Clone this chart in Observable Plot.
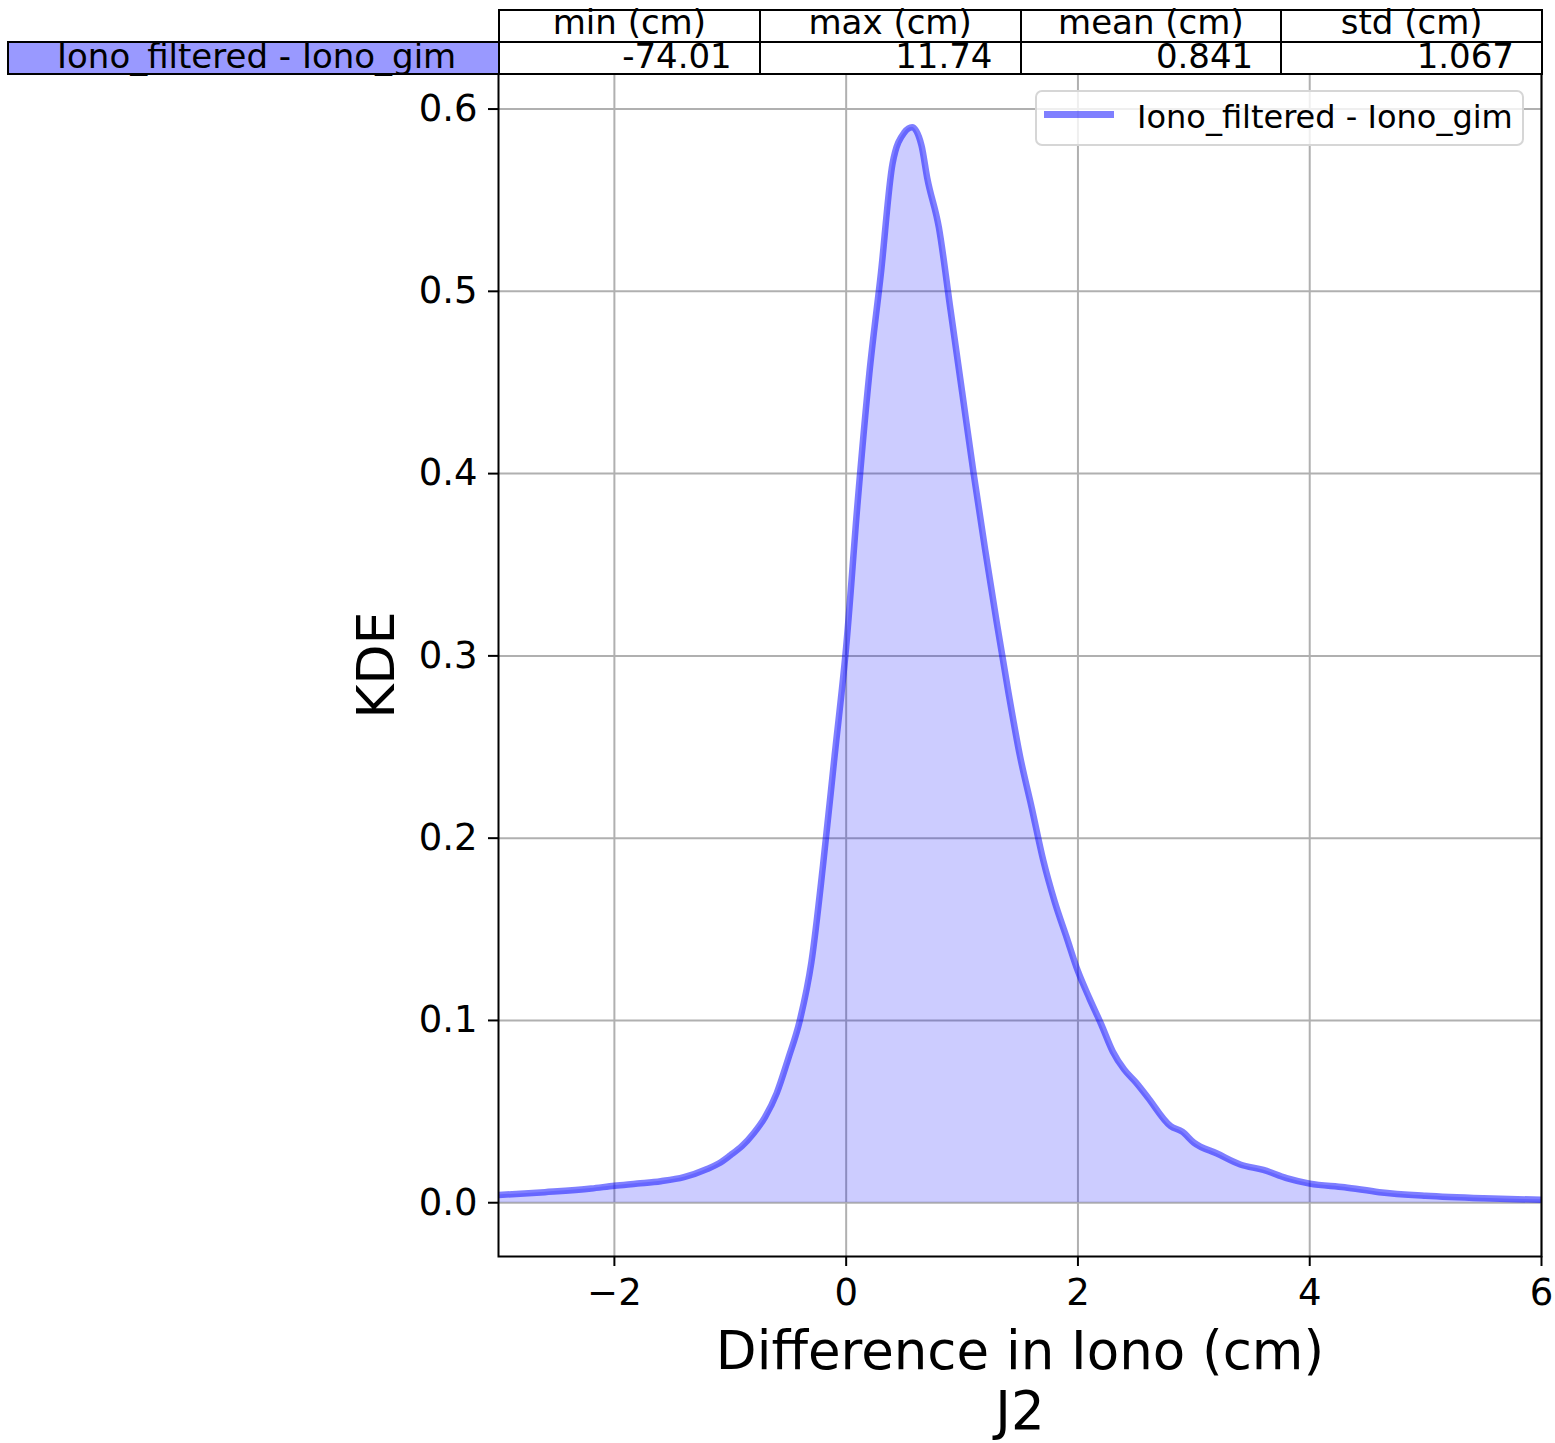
<!DOCTYPE html>
<html>
<head>
<meta charset="utf-8">
<script src="https://cdn.jsdelivr.net/npm/d3@7"></script>
<script src="https://cdn.jsdelivr.net/npm/@observablehq/plot@0.6"></script>
<style>
  html, body { margin: 0; padding: 0; background: #fff; }
  #wrap { position: relative; width: 1555px; height: 1443px; font-family: "DejaVu Sans", sans-serif; }
  #chart { position: absolute; left: 0; top: 0; }
  .cell { position: absolute; box-sizing: border-box; border: 2px solid #000; font-size: 34px; color: #000; white-space: nowrap; overflow: visible; }
  .cell span { display: block; position: absolute; height: 30px; line-height: 30px; }
  #legend { position: absolute; left: 1035px; top: 90px; width: 489px; height: 56px; box-sizing: border-box; border: 2px solid #d6d6d6; border-radius: 7px; background: rgba(255,255,255,0.8); }
  #legend .swatch { position: absolute; left: 7px; top: 19px; width: 70px; height: 7px; background: rgba(0,0,255,0.5); }
  #legend .lbl { position: absolute; left: 100px; top: 9px; font-size: 32px; line-height: 1; white-space: nowrap; }
</style>
</head>
<body>
<div id="wrap">
  <div id="chart"></div>
  <div id="table"></div>
  <div id="legend"><div class="swatch"></div><div class="lbl"></div></div>
</div>
<script>
// ---- data ----
const seriesName = "Iono_filtered - Iono_gim";
const xValues = [-3.0, -2.6, -2.2, -2.0, -1.8, -1.6, -1.4, -1.2, -1.1, -1.0, -0.9, -0.8, -0.7, -0.6, -0.5, -0.4, -0.3, -0.2, -0.1, 0.0, 0.1, 0.2, 0.3, 0.4, 0.5, 0.57, 0.65, 0.7, 0.8, 0.9, 1.0, 1.1, 1.2, 1.3, 1.4, 1.5, 1.6, 1.7, 1.8, 1.9, 2.0, 2.1, 2.2, 2.3, 2.4, 2.5, 2.6, 2.8, 2.9, 3.0, 3.2, 3.4, 3.6, 3.8, 4.0, 4.3, 4.6, 5.0, 5.5, 6.0];
const kdeValues = [0.0042, 0.0058, 0.0078, 0.0093, 0.0105, 0.0118, 0.014, 0.0185, 0.0215, 0.026, 0.031, 0.038, 0.047, 0.06, 0.079, 0.100, 0.132, 0.185, 0.245, 0.305, 0.385, 0.455, 0.51, 0.57, 0.587, 0.59, 0.58, 0.562, 0.535, 0.49, 0.445, 0.40, 0.358, 0.318, 0.28, 0.245, 0.217, 0.188, 0.165, 0.146, 0.127, 0.112, 0.098, 0.083, 0.073, 0.066, 0.058, 0.042, 0.039, 0.033, 0.027, 0.021, 0.018, 0.0135, 0.0105, 0.0085, 0.0058, 0.0038, 0.0024, 0.0016];
const xTicks = [-2, 0, 2, 4, 6];
const yTicks = [0, 0.1, 0.2, 0.3, 0.4, 0.5, 0.6];
const xDomain = [-3, 6];
const yDomain = [-0.0295, 0.6195];
const tableColumns = ["min (cm)", "max (cm)", "mean (cm)", "std (cm)"];
const tableValues = ["-74.01", "11.74", "0.841", "1.067"];
const xLabel = "Difference in Iono (cm)\nJ2";
const yLabel = "KDE";

// ---- chart ----
const data = xValues.map((x, i) => ({x, y: kdeValues[i]}));
const minus = d => String(d).replace("-", "\u2212");

const chart = Plot.plot({
  width: 1555,
  height: 1443,
  marginLeft: 498,
  marginRight: 14,
  marginTop: 73,
  marginBottom: 187,
  style: {fontFamily: "DejaVu Sans", fontSize: "37px", color: "#000", background: "#fff"},
  x: {domain: xDomain},
  y: {domain: yDomain},
  marks: [
    Plot.gridX(xTicks, {stroke: "#b0b0b0", strokeOpacity: 1, strokeWidth: 2}),
    Plot.gridY(yTicks, {stroke: "#b0b0b0", strokeOpacity: 1, strokeWidth: 2}),
    Plot.areaY(data, {x: "x", y: "y", fill: "blue", fillOpacity: 0.2, curve: "monotone-x", clip: true}),
    Plot.lineY(data, {x: "x", y: "y", stroke: "blue", strokeOpacity: 0.5, strokeWidth: 6.5, curve: "monotone-x", clip: true}),
    Plot.frame({stroke: "#000", strokeWidth: 2}),
    Plot.axisX(xTicks, {tickSize: 10, tickPadding: 12, tickFormat: minus, label: null, strokeWidth: 2, fontSize: 37}),
    Plot.axisY(yTicks, {tickSize: 10, tickPadding: 11, tickFormat: d3.format(".1f"), label: null, strokeWidth: 2, fontSize: 37}),
    Plot.text([xLabel], {frameAnchor: "bottom", text: d => d, dy: 70, lineAnchor: "top", lineHeight: 1.13, fontSize: 53}),
    Plot.text([yLabel], {frameAnchor: "left", text: d => d, dx: -121, rotate: -90, textAnchor: "middle", lineAnchor: "middle", fontSize: 52})
  ]
});
document.getElementById("chart").appendChild(chart);

// ---- table above the axes ----
const tbl = document.getElementById("table");
const colLeft = 498, colW = (1541 - 498) / tableColumns.length;
function addCell(left, top, width, height, text, align, pad, bg, textTop) {
  const c = document.createElement("div");
  c.className = "cell";
  Object.assign(c.style, {left: left + "px", top: top + "px", width: width + "px", height: height + "px", background: bg || "#fff"});
  const s = document.createElement("span");
  s.textContent = text;
  s.style.top = textTop + "px";
  if (align === "center") { s.style.left = "0"; s.style.right = "0"; s.style.textAlign = "center"; }
  else if (align === "right") { s.style.right = pad + "px"; }
  else { s.style.left = pad + "px"; }
  c.appendChild(s);
  tbl.appendChild(c);
}
tableColumns.forEach((t, i) => addCell(colLeft + i * colW, 9, colW + 2, 34, t, "center", 0, "#fff", -4));
addCell(7, 41, 493, 34, seriesName, "left", 48, "#9999ff", -2);
tableValues.forEach((t, i) => addCell(colLeft + i * colW, 41, colW + 2, 34, t, "right", 27, "#fff", -2));

document.querySelector("#legend .lbl").textContent = seriesName;
</script>
</body>
</html>
